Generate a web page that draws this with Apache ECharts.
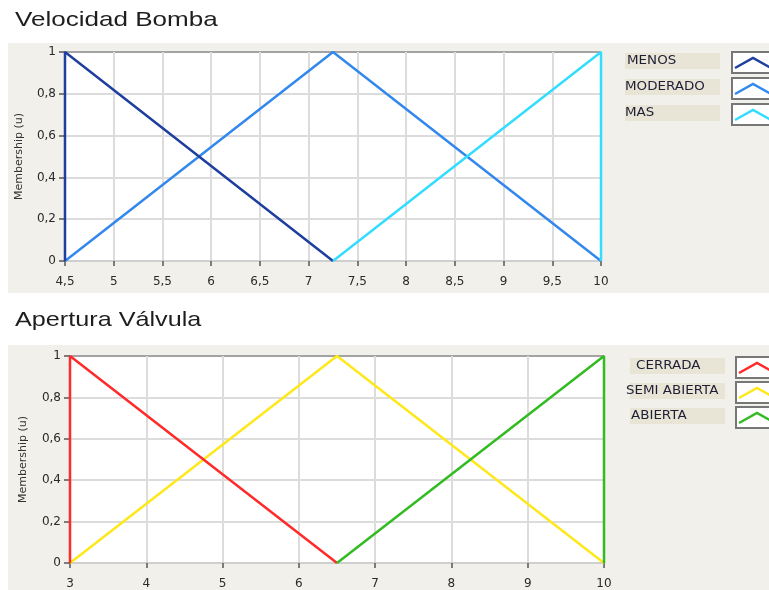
<!DOCTYPE html>
<html>
<head>
<meta charset="utf-8">
<script src="https://cdn.jsdelivr.net/npm/echarts/dist/echarts.min.js"></script>
<style>
  html, body { margin: 0; padding: 0; background: #ffffff; }
  #chart { width: 769px; height: 590px; }
</style>
</head>
<body>
<div id="chart"></div>
<script>
// Membership functions: pump speed (Velocidad Bomba)
const bombaTitle = 'Velocidad Bomba';
const bombaNames = ['MENOS', 'MODERADO', 'MAS'];
const bombaColors = ['#1f3f9f', '#3388ee', '#33ddff'];
const bombaMenos = [[4.5, 0], [4.5, 1], [7.25, 0]];
const bombaModerado = [[4.5, 0], [7.25, 1], [10, 0]];
const bombaMas = [[7.25, 0], [10, 1], [10, 0]];
const bombaRange = [4.5, 10, 0.5];

// Membership functions: valve opening (Apertura Válvula)
const valvulaTitle = 'Apertura Válvula';
const valvulaNames = ['CERRADA', 'SEMI ABIERTA', 'ABIERTA'];
const valvulaColors = ['#ff2a2a', '#ffe81a', '#33bb22'];
const valvulaCerrada = [[3, 0], [3, 1], [6.5, 0]];
const valvulaSemi = [[3, 0], [6.5, 1], [10, 0]];
const valvulaAbierta = [[6.5, 0], [10, 1], [10, 0]];
const valvulaRange = [3, 10, 1];

const yAxisName = 'Membership (u)';

const FONT = 'DejaVu Sans';
const fmt = v => String(Number(v.toFixed(2))).replace('.', ',');

function xAxisCfg(gridIndex, range) {
  return {
    type: 'value', gridIndex: gridIndex,
    min: range[0], max: range[1], interval: range[2],
    axisLine: { show: true, lineStyle: { color: '#cfcfcf', width: 2 } },
    axisTick: { show: true, length: 5, lineStyle: { color: '#555', width: 1.5 } },
    axisLabel: { margin: 15, fontFamily: FONT, fontSize: 12, color: '#2a2a2a', formatter: fmt },
    splitLine: { show: true, lineStyle: { color: '#dcdcdc', width: 2 } }
  };
}

function yAxisCfg(gridIndex, gap) {
  return {
    type: 'value', gridIndex: gridIndex,
    min: 0, max: 1, interval: 0.2,
    name: yAxisName, nameLocation: 'middle', nameGap: gap, nameRotate: 90,
    nameTextStyle: { fontFamily: FONT, fontSize: 11, color: '#333' },
    axisLine: { show: true, lineStyle: { color: '#bbbbbb', width: 2 } },
    axisTick: { show: true, length: 6, lineStyle: { color: '#555', width: 1.5 } },
    axisLabel: { margin: 9, fontFamily: FONT, fontSize: 12, color: '#2a2a2a', formatter: fmt },
    splitLine: {
      show: true,
      lineStyle: { color: ['#dcdcdc', '#dcdcdc', '#dcdcdc', '#dcdcdc', '#dcdcdc', '#a3a3a3'], width: 2 }
    }
  };
}

function lineSeries(name, data, color, idx, z) {
  return {
    type: 'line', name: name, data: data,
    xAxisIndex: idx, yAxisIndex: idx,
    showSymbol: false, symbol: 'none', animation: false, z: z,
    lineStyle: { color: color, width: 2.5 }
  };
}

// Legend rows: label box on the left, framed line sample on the right
function legendRows(names, colors, rows) {
  const els = [];
  names.forEach((name, i) => {
    const r = rows[i];
    els.push({
      type: 'rect', shape: { x: r.bx, y: r.by, width: 95, height: 16 },
      style: { fill: '#e8e5d6' }, silent: true
    });
    els.push({
      type: 'text', x: r.tx, y: r.by + 8, scaleX: 1.12,
      style: { text: name, font: '12px "DejaVu Sans"', fill: '#1e1e36', verticalAlign: 'middle' },
      silent: true
    });
    els.push({
      type: 'rect', shape: { x: r.ix, y: r.iy, width: 50, height: 21 },
      style: { fill: '#ffffff', stroke: '#777777', lineWidth: 2 }, silent: true
    });
    els.push({
      type: 'polyline',
      shape: { points: [[r.ix + 3, r.iy + 16], [r.ix + 21, r.iy + 6], [r.ix + 39, r.iy + 16]] },
      style: { stroke: colors[i], lineWidth: 2.5, fill: null }, silent: true
    });
  });
  return els;
}

const chart = echarts.init(document.getElementById('chart'), null, { renderer: 'canvas' });

const graphics = [
  { type: 'rect', shape: { x: 8, y: 43, width: 761, height: 250 }, style: { fill: '#f1f0eb' }, silent: true, z: -10 },
  { type: 'rect', shape: { x: 8, y: 345, width: 761, height: 245 }, style: { fill: '#f1f0eb' }, silent: true, z: -10 },
  {
    type: 'text', x: 15, y: 20, scaleX: 1.24,
    style: { text: bombaTitle, font: '21px "Liberation Sans"', fill: '#1e1e1e', verticalAlign: 'middle' }
  },
  {
    type: 'text', x: 15, y: 320, scaleX: 1.2,
    style: { text: valvulaTitle, font: '21px "Liberation Sans"', fill: '#1e1e1e', verticalAlign: 'middle' }
  }
].concat(
  legendRows(bombaNames, bombaColors, [
    { bx: 625, by: 53, tx: 627, ix: 732, iy: 52 },
    { bx: 625, by: 79, tx: 625, ix: 732, iy: 78 },
    { bx: 625, by: 105, tx: 625, ix: 732, iy: 104 }
  ]),
  legendRows(valvulaNames, valvulaColors, [
    { bx: 630, by: 358, tx: 636, ix: 736, iy: 357 },
    { bx: 630, by: 383, tx: 626, ix: 736, iy: 382 },
    { bx: 630, by: 408, tx: 631, ix: 736, iy: 407 }
  ])
);

chart.setOption({
  animation: false,
  backgroundColor: '#ffffff',
  graphic: { elements: graphics },
  grid: [
    { left: 65, right: 168, top: 52, height: 209, show: true, backgroundColor: '#ffffff', borderWidth: 0 },
    { left: 70, right: 165, top: 356, height: 209, show: true, backgroundColor: '#ffffff', borderWidth: 0 }
  ],
  xAxis: [xAxisCfg(0, bombaRange), xAxisCfg(1, valvulaRange)],
  yAxis: [yAxisCfg(0, 40), yAxisCfg(1, 41)],
  series: [
    lineSeries(bombaNames[1], bombaModerado, bombaColors[1], 0, 2),
    lineSeries(bombaNames[0], bombaMenos, bombaColors[0], 0, 3),
    lineSeries(bombaNames[2], bombaMas, bombaColors[2], 0, 4),
    lineSeries(valvulaNames[1], valvulaSemi, valvulaColors[1], 1, 2),
    lineSeries(valvulaNames[0], valvulaCerrada, valvulaColors[0], 1, 3),
    lineSeries(valvulaNames[2], valvulaAbierta, valvulaColors[2], 1, 4)
  ]
});
</script>
</body>
</html>
